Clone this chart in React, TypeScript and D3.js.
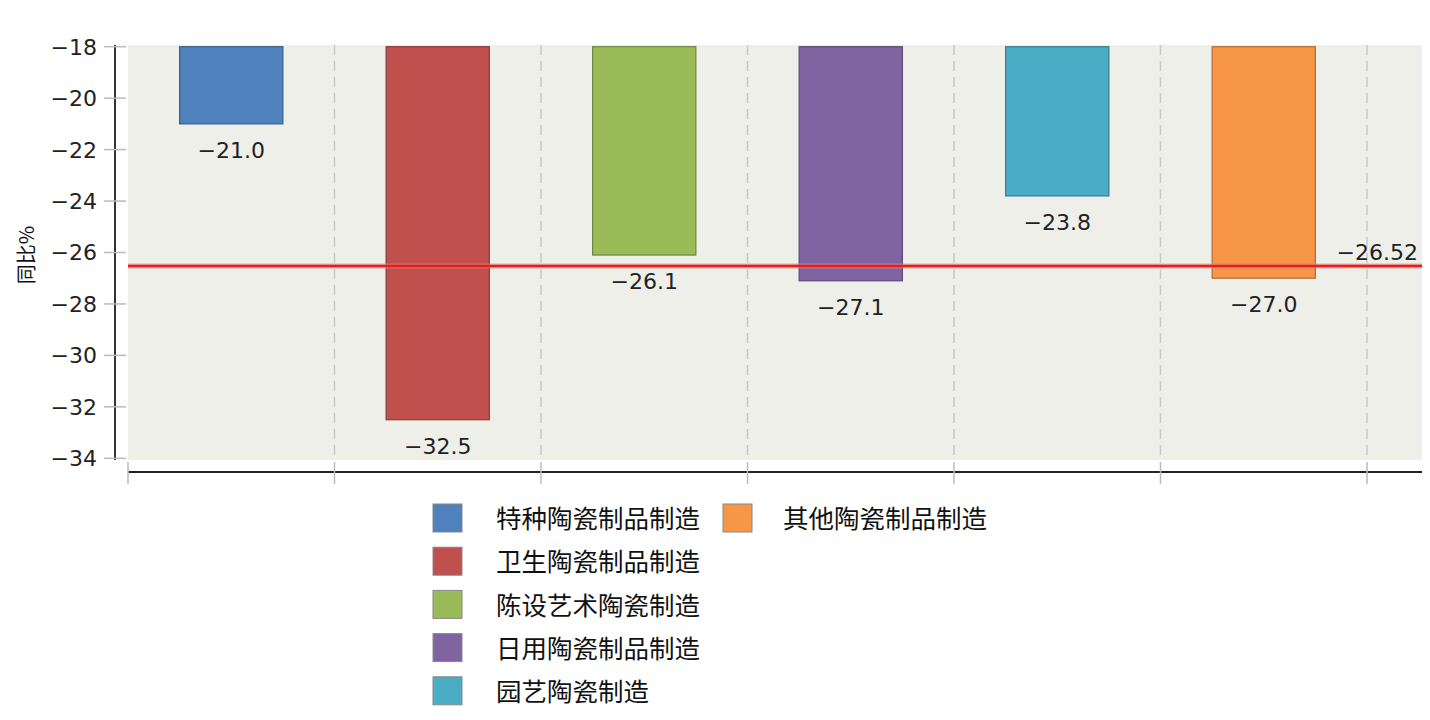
import { useRef, useEffect } from "react";
import * as d3 from "d3";

const categories = [
  "特种陶瓷制品制造",
  "卫生陶瓷制品制造",
  "陈设艺术陶瓷制造",
  "日用陶瓷制品制造",
  "园艺陶瓷制造",
  "其他陶瓷制品制造",
];
const values = [-21.0, -32.5, -26.1, -27.1, -23.8, -27.0];
const colors = ["#4f81bd", "#c0504d", "#9bbb59", "#8064a2", "#4bacc6", "#f79646"];
const average = -26.52;
const yTicks = [-18, -20, -22, -24, -26, -28, -30, -32, -34];

const FONT = "'DejaVu Sans', Verdana, sans-serif";
const CJK = "'Noto Sans CJK SC', sans-serif";

export default function App() {
  const svgRef = useRef<SVGSVGElement>(null);

  useEffect(() => {
    if (!svgRef.current) return;
    const svg = d3.select(svgRef.current);
    svg.selectAll("*").remove();

    const plotLeft = 128;
    const plotRight = 1422;
    const plotTop = 45;
    const plotBottom = 460;
    const axisX = 115;
    const axisY = 472;

    const y = d3.scaleLinear().domain([-18, -34]).range([46.7, 458.3]);
    const x = d3.scaleBand<number>()
      .domain(d3.range(categories.length))
      .range([plotLeft, 1367])
      .paddingInner(0)
      .paddingOuter(0);
    const bw = x.bandwidth();
    const fmt = d3.format(".1f");
    const fmt2 = d3.format(".2f");

    // plot background
    svg.append("rect")
      .attr("x", plotLeft).attr("y", plotTop)
      .attr("width", plotRight - plotLeft).attr("height", plotBottom - plotTop)
      .attr("fill", "#efefea");

    // vertical dashed grid
    const gridXs = d3.range(1, categories.length + 1).map((i) => plotLeft + i * bw);
    svg.selectAll(".vgrid").data(gridXs).enter().append("line")
      .attr("x1", (d) => d).attr("x2", (d) => d)
      .attr("y1", plotTop).attr("y2", plotBottom)
      .attr("stroke", "#c8c8c8").attr("stroke-width", 1.5)
      .attr("stroke-dasharray", "10,6");

    // bars hanging from the top of the axis
    svg.selectAll(".bar").data(values).enter().append("rect")
      .attr("x", (_, i) => x(i)! + bw / 4)
      .attr("y", y(-18))
      .attr("width", bw / 2)
      .attr("height", (d) => y(d) - y(-18))
      .attr("fill", (_, i) => colors[i])
      .attr("stroke", (_, i) => d3.color(colors[i])!.darker(0.9).formatHex())
      .attr("stroke-width", 1.2);

    // value labels
    svg.selectAll(".val").data(values).enter().append("text")
      .attr("x", (_, i) => x(i)! + bw / 2)
      .attr("y", (d) => y(d) + 34)
      .attr("text-anchor", "middle")
      .attr("font-family", FONT).attr("font-size", 22).attr("fill", "#222")
      .text((d) => fmt(d));

    // average line
    svg.append("line")
      .attr("x1", plotLeft).attr("x2", plotRight)
      .attr("y1", y(average)).attr("y2", y(average))
      .attr("stroke", "#f08080").attr("stroke-opacity", 0.6).attr("stroke-width", 5);
    svg.append("line")
      .attr("x1", plotLeft).attr("x2", plotRight)
      .attr("y1", y(average)).attr("y2", y(average))
      .attr("stroke", "#e0201c").attr("stroke-width", 2.5);
    svg.append("text")
      .attr("x", 1418).attr("y", y(average) - 6)
      .attr("text-anchor", "end")
      .attr("font-family", FONT).attr("font-size", 22).attr("fill", "#222")
      .text(fmt2(average));

    // y axis
    svg.append("line")
      .attr("x1", axisX).attr("x2", axisX)
      .attr("y1", plotTop).attr("y2", plotBottom)
      .attr("stroke", "#333").attr("stroke-width", 2);
    svg.selectAll(".ytick").data(yTicks).enter().append("line")
      .attr("x1", 104).attr("x2", 126)
      .attr("y1", (d) => y(d)).attr("y2", (d) => y(d))
      .attr("stroke", "#bbb").attr("stroke-width", 1.5);
    svg.selectAll(".ylab").data(yTicks).enter().append("text")
      .attr("x", 97).attr("y", (d) => y(d))
      .attr("dy", "0.36em")
      .attr("text-anchor", "end")
      .attr("font-family", FONT).attr("font-size", 22).attr("fill", "#222")
      .text((d) => d3.format("d")(d));

    svg.append("text")
      .attr("transform", "translate(34,255) rotate(-90)")
      .attr("text-anchor", "middle")
      .attr("font-family", CJK).attr("font-size", 20).attr("fill", "#111")
      .text("同比%");

    // x axis
    svg.append("line")
      .attr("x1", plotLeft).attr("x2", plotRight)
      .attr("y1", axisY).attr("y2", axisY)
      .attr("stroke", "#222").attr("stroke-width", 2);
    const xTickXs = d3.range(0, categories.length + 1).map((i) => plotLeft + i * bw);
    svg.selectAll(".xtick").data(xTickXs).enter().append("line")
      .attr("x1", (d) => d).attr("x2", (d) => d)
      .attr("y1", 462).attr("y2", 484)
      .attr("stroke", "#bbb").attr("stroke-width", 1.5);

    // legend
    const legendPos = categories.map((_, i) =>
      i < 5 ? { x: 433, y: 504 + i * 43.2, tx: 496 } : { x: 723, y: 504, tx: 783 }
    );
    const lg = svg.selectAll(".leg").data(categories).enter().append("g");
    lg.append("rect")
      .attr("x", (_, i) => legendPos[i].x).attr("y", (_, i) => legendPos[i].y)
      .attr("width", 29).attr("height", 28)
      .attr("fill", (_, i) => colors[i])
      .attr("stroke", "#888").attr("stroke-width", 1);
    lg.append("text")
      .attr("x", (_, i) => legendPos[i].tx).attr("y", (_, i) => legendPos[i].y + 15)
      .attr("dy", "0.36em")
      .attr("font-family", CJK).attr("font-size", 25.5).attr("fill", "#111")
      .text((d) => d);
  }, []);

  return (
    <svg
      ref={svgRef}
      width={1430}
      height={720}
      style={{ position: "absolute", left: 0, top: 0, background: "#fff" }}
    />
  );
}
